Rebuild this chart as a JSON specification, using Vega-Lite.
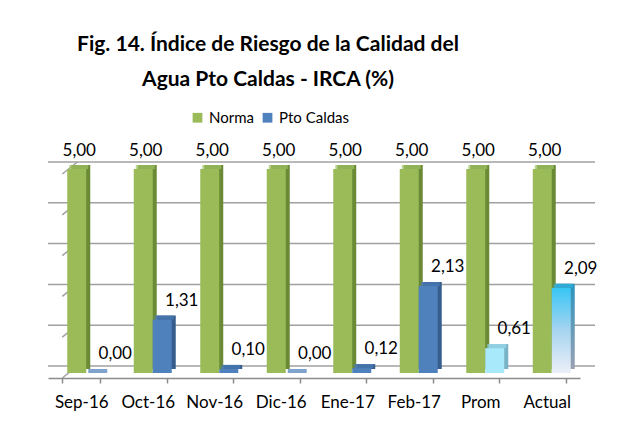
{
  "$schema": "https://vega.github.io/schema/vega-lite/v6.json",
  "width": 532,
  "height": 204,
  "autosize": {"type": "none"},
  "padding": {"left": 48, "top": 169, "right": 57, "bottom": 52},
  "background": "white",
  "title": {
    "text": ["Fig. 14. Índice de Riesgo de la Calidad del", "Agua  Pto Caldas - IRCA (%)"],
    "font": "Lato",
    "fontSize": 21,
    "fontWeight": "bold",
    "lineHeight": 35,
    "anchor": "middle",
    "dx": -46,
    "color": "#000000",
    "offset": 20
  },
  "config": {
    "view": {"stroke": null},
    "locale": {"number": {"decimal": ",", "thousands": ".", "grouping": [3], "currency": ["", " €"]}}
  },
  "datasets": {
    "irca": [
      {"cat": "Sep-16", "serie": "Norma", "valor": 5.0},
      {"cat": "Sep-16", "serie": "Pto Caldas", "valor": 0.0},
      {"cat": "Oct-16", "serie": "Norma", "valor": 5.0},
      {"cat": "Oct-16", "serie": "Pto Caldas", "valor": 1.31},
      {"cat": "Nov-16", "serie": "Norma", "valor": 5.0},
      {"cat": "Nov-16", "serie": "Pto Caldas", "valor": 0.10},
      {"cat": "Dic-16", "serie": "Norma", "valor": 5.0},
      {"cat": "Dic-16", "serie": "Pto Caldas", "valor": 0.0},
      {"cat": "Ene-17", "serie": "Norma", "valor": 5.0},
      {"cat": "Ene-17", "serie": "Pto Caldas", "valor": 0.12},
      {"cat": "Feb-17", "serie": "Norma", "valor": 5.0},
      {"cat": "Feb-17", "serie": "Pto Caldas", "valor": 2.13},
      {"cat": "Prom", "serie": "Norma", "valor": 5.0},
      {"cat": "Prom", "serie": "Pto Caldas", "valor": 0.61},
      {"cat": "Actual", "serie": "Norma", "valor": 5.0},
      {"cat": "Actual", "serie": "Pto Caldas", "valor": 2.09}
    ],
    "grid": [{"g": 0}, {"g": 1}, {"g": 2}, {"g": 3}, {"g": 4}, {"g": 5}]
  },
  "data": {"name": "irca"},
  "encoding": {
    "x": {
      "field": "cat", "type": "nominal", "sort": null,
      "scale": {"paddingInner": 0.43, "paddingOuter": 0.215},
      "axis": {
        "title": null, "labelAngle": 0, "tickBand": "extent", "offset": 5,
        "domainColor": "#8c8c8c", "domainWidth": 1.5, "tickColor": "#8c8c8c", "tickWidth": 1.5, "tickSize": 5,
        "labelFont": "Lato", "labelFontSize": 17, "labelColor": "#000000", "labelPadding": 11
      }
    },
    "y": {"field": "valor", "type": "quantitative", "scale": {"domain": [0, 5], "nice": false}, "axis": null}
  },
  "layer": [
    {
      "data": {"name": "grid"},
      "mark": {"type": "rule", "color": "#a0a0a0", "strokeWidth": 1.5, "xOffset": 15, "yOffset": -7},
      "encoding": {"x": null, "y": {"field": "g", "type": "quantitative"}}
    },
    {
      "data": {"name": "grid"},
      "mark": {"type": "rule", "color": "#a0a0a0", "strokeWidth": 1.5, "yOffset": 5, "x2Offset": 15, "y2Offset": -7},
      "encoding": {
        "x": {"datum": "Sep-16", "type": "nominal", "bandPosition": 0},
        "x2": {"datum": "Sep-16", "bandPosition": 0},
        "y": {"field": "g", "type": "quantitative"},
        "y2": {"field": "g"}
      }
    },
    {
      "transform": [{"filter": "datum.serie === 'Norma'"}],
      "mark": {"type": "bar", "width": 19, "xOffset": -0.5, "yOffset": -4, "color": "#6a8a36"},
      "encoding": {}
    },
    {
      "transform": [{"filter": "datum.serie === 'Pto Caldas'"}],
      "mark": {"type": "bar", "width": 19, "xOffset": 18.5, "yOffset": -4},
      "encoding": {
        "color": {
          "condition": [
            {"test": "datum.cat === 'Prom'", "value": "#78b2c4"},
            {"test": "datum.cat === 'Actual'", "value": {"gradient": "linear", "x1": 0, "y1": 0, "x2": 0, "y2": 1, "stops": [{"offset": 0, "color": "#2c93bd"}, {"offset": 1, "color": "#9aa1b3"}]}}
          ],
          "value": "#375d8c"
        }
      }
    },
    {
      "transform": [{"filter": "datum.serie === 'Norma'"}],
      "mark": {"type": "bar", "width": 19, "xOffset": -4.5},
      "encoding": {
        "color": {
          "field": "serie", "type": "nominal",
          "scale": {"domain": ["Norma", "Pto Caldas"], "range": ["#9bbb59", "#4f81bd"]},
          "legend": {
            "title": null, "orient": "none", "legendX": 142, "legendY": -59, "direction": "horizontal",
            "symbolType": "square", "symbolSize": 95, "symbolStrokeWidth": 0, "labelOffset": 4,
            "labelFont": "Lato", "labelFontSize": 15, "labelColor": "#000000", "columnPadding": 6
          }
        }
      }
    },
    {
      "transform": [{"filter": "datum.serie === 'Pto Caldas'"}],
      "mark": {"type": "bar", "width": 19, "xOffset": 14.5},
      "encoding": {
        "color": {
          "field": "serie", "type": "nominal",
          "condition": [
            {"test": "datum.cat === 'Prom'", "value": "#a8e9fc"},
            {"test": "datum.cat === 'Actual'", "value": {"gradient": "linear", "x1": 0, "y1": 0, "x2": 0, "y2": 1, "stops": [{"offset": 0, "color": "#38c6f5"}, {"offset": 0.5, "color": "#a6d4f0"}, {"offset": 1, "color": "#eceff8"}]}}
          ]
        }
      }
    },
    {
      "transform": [{"filter": "datum.serie === 'Norma'"}],
      "mark": {"type": "tick", "size": 19, "thickness": 4, "xOffset": -2.5, "yOffset": -2, "color": "#a3c466"},
      "encoding": {}
    },
    {
      "transform": [{"filter": "datum.serie === 'Pto Caldas'"}],
      "mark": {"type": "tick", "size": 19, "thickness": 4, "xOffset": 16.5, "yOffset": -2},
      "encoding": {
        "color": {
          "condition": [
            {"test": "datum.cat === 'Prom'", "value": "#98dcee"},
            {"test": "datum.cat === 'Actual'", "value": "#2fb3e0"}
          ],
          "value": "#4a7cb8"
        }
      }
    },
    {
      "transform": [{"filter": "datum.serie === 'Norma'"}],
      "mark": {"type": "text", "font": "Lato", "fontSize": 17, "color": "#000000", "baseline": "alphabetic", "dx": -2, "dy": -13},
      "encoding": {"text": {"field": "valor", "type": "quantitative", "format": ".2f"}}
    },
    {
      "transform": [{"filter": "datum.serie === 'Pto Caldas'"}],
      "mark": {"type": "text", "font": "Lato", "fontSize": 17, "color": "#000000", "baseline": "alphabetic", "dx": 34, "dy": -14},
      "encoding": {"text": {"field": "valor", "type": "quantitative", "format": ".2f"}}
    }
  ]
}
